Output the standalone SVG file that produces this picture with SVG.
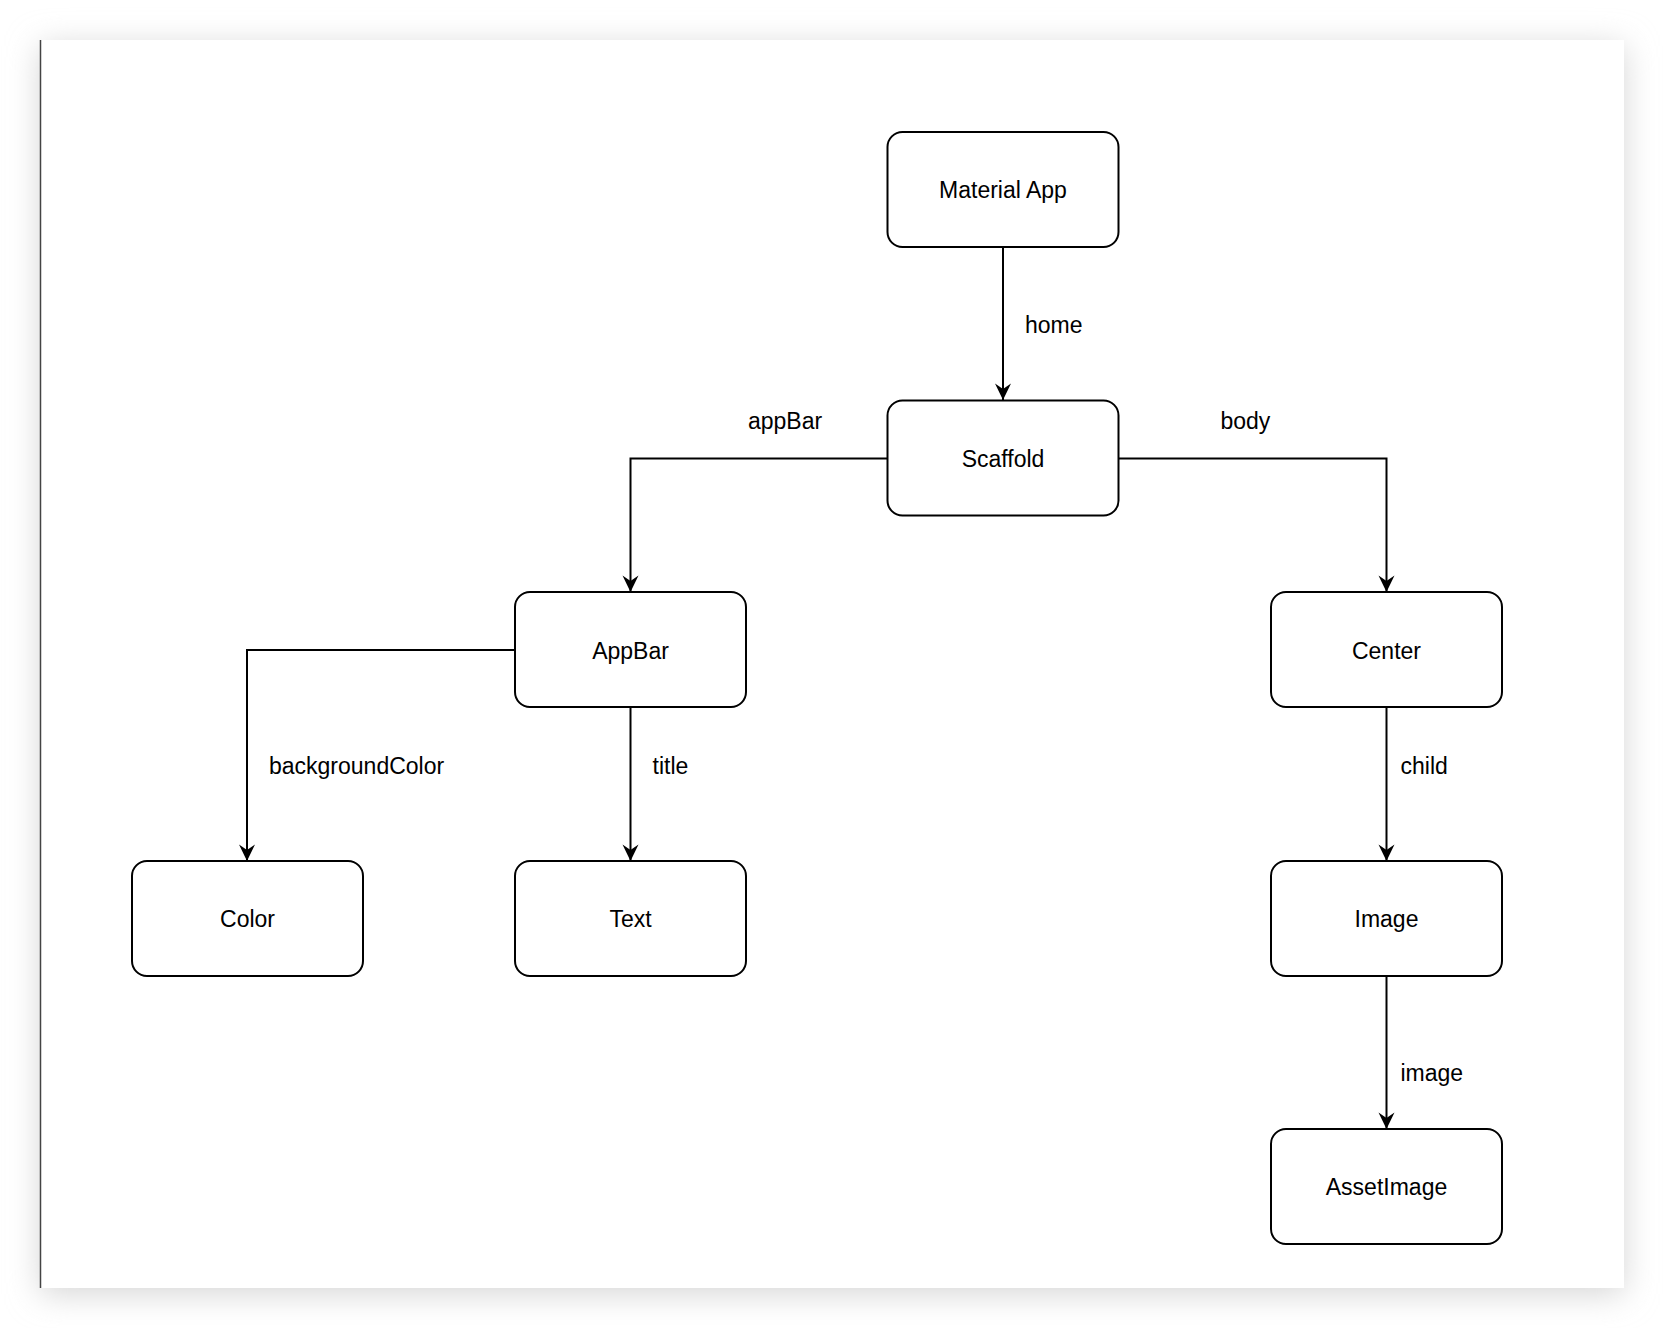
<svg xmlns="http://www.w3.org/2000/svg" width="1664" height="1328" viewBox="0 0 1664 1328">
  <style>
    .node rect { fill: #ffffff; stroke: #000000; stroke-width: 2; }
    .node text { font-family: "Liberation Sans", Arial, sans-serif; font-size: 23px; fill: #000000; text-anchor: middle; }
    .edge { fill: none; stroke: #000000; stroke-width: 2; }
    .label { font-family: "Liberation Sans", Arial, sans-serif; font-size: 23px; fill: #000000; }
  </style>
  <defs>
    <filter id="shadow" x="-10%" y="-10%" width="120%" height="120%">
      <feGaussianBlur stdDeviation="16"/>
    </filter>
    <marker id="arrow" markerUnits="userSpaceOnUse" markerWidth="20" markerHeight="20" viewBox="-18 -10 20 20" refX="0" refY="0" orient="auto">
      <path d="M0,0 L-16.5,-8 L-11,0 L-16.5,8 Z" fill="#000000"/>
    </marker>
  </defs>
  <rect x="0" y="0" width="1664" height="1328" fill="#ffffff"/>
  <rect x="40" y="46" width="1584" height="1248" fill="#d6d6d6" filter="url(#shadow)"/>
  <rect x="40" y="40" width="1584" height="1248" fill="#ffffff"/>
  <line x1="40.5" y1="40" x2="40.5" y2="1288" stroke="#444444" stroke-width="1.5"/>

  <g id="connectors">
    <path class="edge" d="M1003,247 L1003,400" marker-end="url(#arrow)"/>
    <path class="edge" d="M887,458.5 L630.5,458.5 L630.5,592" marker-end="url(#arrow)"/>
    <path class="edge" d="M1118,458.5 L1386.5,458.5 L1386.5,592" marker-end="url(#arrow)"/>
    <path class="edge" d="M515,650 L247,650 L247,861" marker-end="url(#arrow)"/>
    <path class="edge" d="M630.5,707 L630.5,861" marker-end="url(#arrow)"/>
    <path class="edge" d="M1386.5,707 L1386.5,861" marker-end="url(#arrow)"/>
    <path class="edge" d="M1386.5,976 L1386.5,1129" marker-end="url(#arrow)"/>
    <text class="label" x="1025" y="332.5">home</text>
    <text class="label" x="748" y="429">appBar</text>
    <text class="label" x="1220.5" y="429">body</text>
    <text class="label" x="269" y="773.5">backgroundColor</text>
    <text class="label" x="652.5" y="773.5">title</text>
    <text class="label" x="1400.5" y="773.5">child</text>
    <text class="label" x="1400.5" y="1080.5">image</text>
  </g>

  <g id="node-material-app" class="node">
    <rect x="887.5" y="132" width="231" height="115" rx="15" ry="15"/>
    <text x="1003" y="198.3">Material App</text>
  </g>
  <g id="node-scaffold" class="node">
    <rect x="887.5" y="400.5" width="231" height="115" rx="15" ry="15"/>
    <text x="1003" y="467">Scaffold</text>
  </g>
  <g id="node-appbar" class="node">
    <rect x="515" y="592" width="231" height="115" rx="15" ry="15"/>
    <text x="630.5" y="658.5">AppBar</text>
  </g>
  <g id="node-center" class="node">
    <rect x="1271" y="592" width="231" height="115" rx="15" ry="15"/>
    <text x="1386.5" y="658.5">Center</text>
  </g>
  <g id="node-color" class="node">
    <rect x="132" y="861" width="231" height="115" rx="15" ry="15"/>
    <text x="247.5" y="927">Color</text>
  </g>
  <g id="node-text" class="node">
    <rect x="515" y="861" width="231" height="115" rx="15" ry="15"/>
    <text x="630.5" y="927">Text</text>
  </g>
  <g id="node-image" class="node">
    <rect x="1271" y="861" width="231" height="115" rx="15" ry="15"/>
    <text x="1386.5" y="927">Image</text>
  </g>
  <g id="node-assetimage" class="node">
    <rect x="1271" y="1129" width="231" height="115" rx="15" ry="15"/>
    <text x="1386.5" y="1195">AssetImage</text>
  </g>
</svg>
